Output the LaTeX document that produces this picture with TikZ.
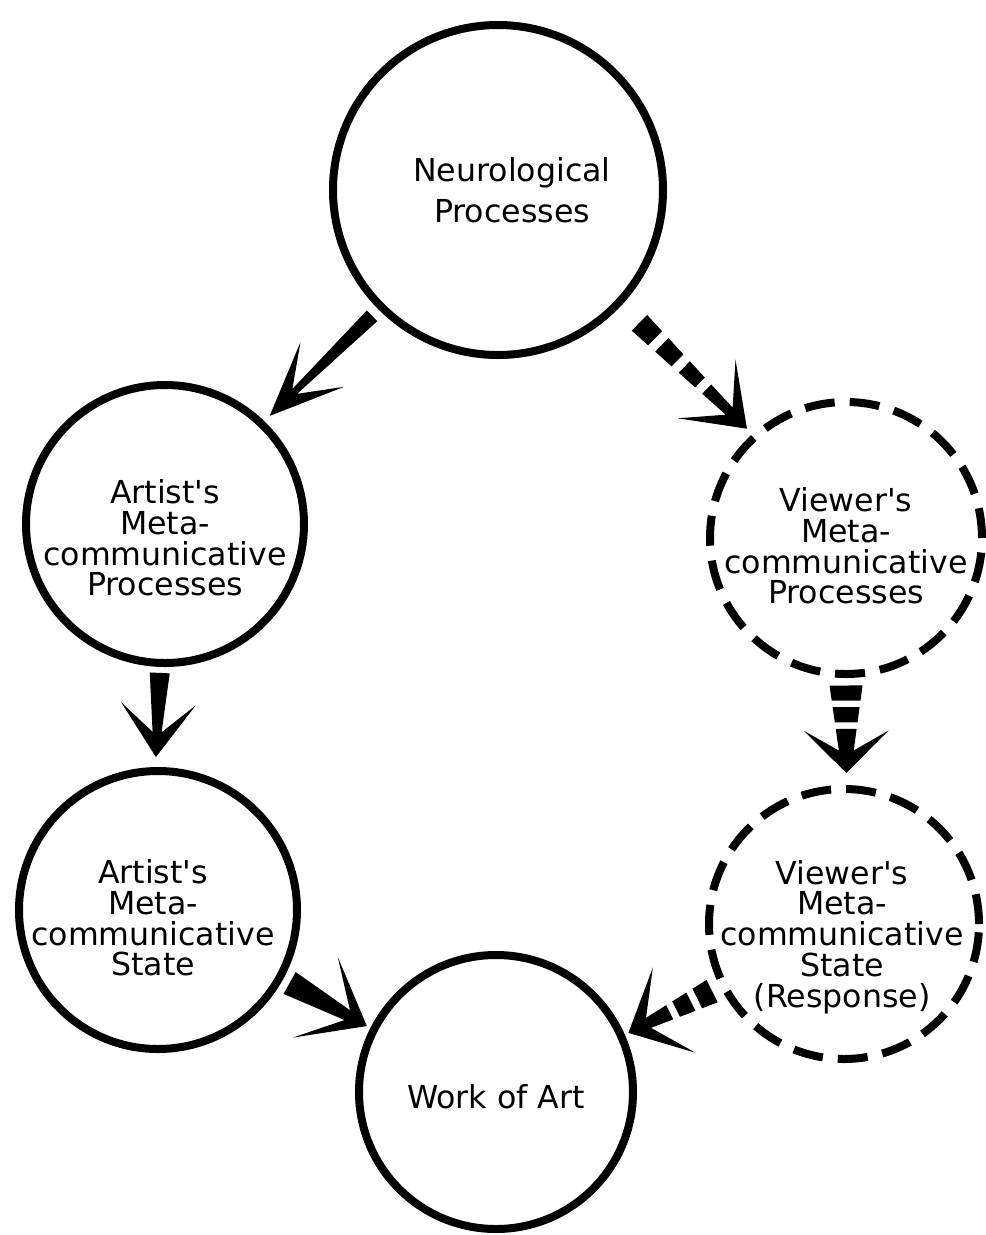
\documentclass[tikz,border=0pt]{standalone}
\usepackage{fontspec}
\setmainfont{DejaVu Sans}
\usetikzlibrary{calc}

% arrow parameters
\tikzset{
    tail gap/.store in=\tailgap, tip gap/.store in=\tipgap,
    tail width/.store in=\tailw, barb/.store in=\barblen,
    barb angle/.store in=\barbang, notch/.store in=\notchlen,
    blocks/.store in=\nfree,
    tail gap=0.15cm, tip gap=0.15cm, tail width=0.2, barb=1.4cm,
    barb angle=35, notch=0.5cm, blocks=0
}

\newcommand\fatbase{%
    ($(\tikztostart)!\tailgap!(\tikztotarget)$) coordinate (fs)
    ($(\tikztotarget)!\tipgap!(\tikztostart)$) coordinate (fe)
    ($(fe)!\notchlen!(fs)$) coordinate (fn)}
\newcommand\fathead{%
    ($(fs)!{\nfree/(\nfree+1)}!(fn)!{\tailw*(1-0.55*\nfree/(\nfree+1))*1cm}!90:(fn)$)
    -- ($(fn)!{\tailw*0.45*1cm}!-90:(fs)$)
    -- ($(fe)!\barblen!-\barbang:(fs)$)
    -- (fe)
    -- ($(fe)!\barblen!\barbang:(fs)$)
    -- ($(fn)!{\tailw*0.45*1cm}!90:(fs)$)
    -- ($(fs)!{\nfree/(\nfree+1)}!(fn)!{\tailw*(1-0.55*\nfree/(\nfree+1))*1cm}!-90:(fn)$)
    -- cycle}
\newcommand\fatblocks{%
    foreach \k in {1,...,\nfree} {
        ($(fs)!{(\k-1)/(\nfree+1)}!(fn)!{\tailw*(1-0.55*(\k-1)/(\nfree+1))*1cm}!90:(fn)$)
        -- ($(fs)!{(\k-0.3)/(\nfree+1)}!(fn)!{\tailw*(1-0.55*(\k-0.3)/(\nfree+1))*1cm}!90:(fn)$)
        -- ($(fs)!{(\k-0.3)/(\nfree+1)}!(fn)!{\tailw*(1-0.55*(\k-0.3)/(\nfree+1))*1cm}!-90:(fn)$)
        -- ($(fs)!{(\k-1)/(\nfree+1)}!(fn)!{\tailw*(1-0.55*(\k-1)/(\nfree+1))*1cm}!-90:(fn)$)
        -- cycle
    }}

\begin{document}
\begin{tikzpicture}[
    blob/.style={circle,draw,line width=0.16cm,inner sep=0pt},
    dashblob/.style={blob,dash pattern=on 0.6cm off 0.3cm},
    lbl/.style={align=center,font=\fontsize{18}{17.5}\selectfont},
    fat/.style={to path={\fatbase \fathead}},
    fatdash/.style={to path={\fatbase \fatblocks \fathead}}
]
\useasboundingbox (0,0) rectangle (19.72,-24.7);

% circles
\node[blob,minimum size=6.6cm] (np) at (9.96,-3.8) {};
\node[blob,minimum size=5.56cm] (amp) at (3.3,-10.48) {};
\node[dashblob,minimum size=5.44cm] (vmp) at (16.92,-10.76) {};
\node[blob,minimum size=5.56cm] (ams) at (3.16,-18.2) {};
\node[dashblob,minimum size=5.4cm] (vms) at (16.88,-18.48) {};
\node[blob,minimum size=5.48cm] (woa) at (9.92,-21.84) {};

% texts
\node[lbl] (np-t) at ([xshift=0.28cm]np) {Neurological\\[6pt]Processes};
\node[lbl] (amp-t) at ([yshift=-0.28cm]amp) {Artist\textquotesingle s\\Meta-\\communicative\\Processes};
\node[lbl] (vmp-t) at ([yshift=-0.16cm]vmp) {Viewer\textquotesingle s\\Meta-\\communicative\\Processes};
\node[lbl] (ams-t) at ([xshift=-0.1cm,yshift=-0.16cm]ams) {Artist\textquotesingle s\\Meta-\\communicative\\State};
\node[lbl] (vms-t) at ([xshift=-0.04cm,yshift=-0.26cm]vms) {Viewer\textquotesingle s\\Meta-\\communicative\\State\\(Response)};
\node[lbl] (woa-t) at ([yshift=-0.1cm]woa) {Work of Art};

% arrows
\fill[fat,tail width=0.15,barb=1.6cm,barb angle=23,notch=0.7cm,tail gap=0.18cm] (np.225) to (amp.46);
\fill[fatdash,blocks=3,tail width=0.22,barb angle=36,tail gap=0.5cm] (np.317) to (vmp.132);
\fill[fat,tail width=0.2,barb=1.3cm,tail gap=0.12cm,tip gap=0.2cm] (amp.268) to (ams.91);
\fill[fatdash,blocks=2,tail width=0.33,barb=1.2cm,barb angle=45,notch=0.45cm,tip gap=0.24cm] (vmp.270) to (vms.89);
\fill[fat,tail width=0.25,barb=1.5cm,barb angle=38,notch=0.45cm,tip gap=0.08cm] (ams.331) to (woa.153);
\fill[fatdash,blocks=2,tail width=0.25,barb angle=43,notch=0.45cm,tail gap=0.18cm,tip gap=0.08cm] (vms.207) to (woa.24);

\end{tikzpicture}
\end{document}
